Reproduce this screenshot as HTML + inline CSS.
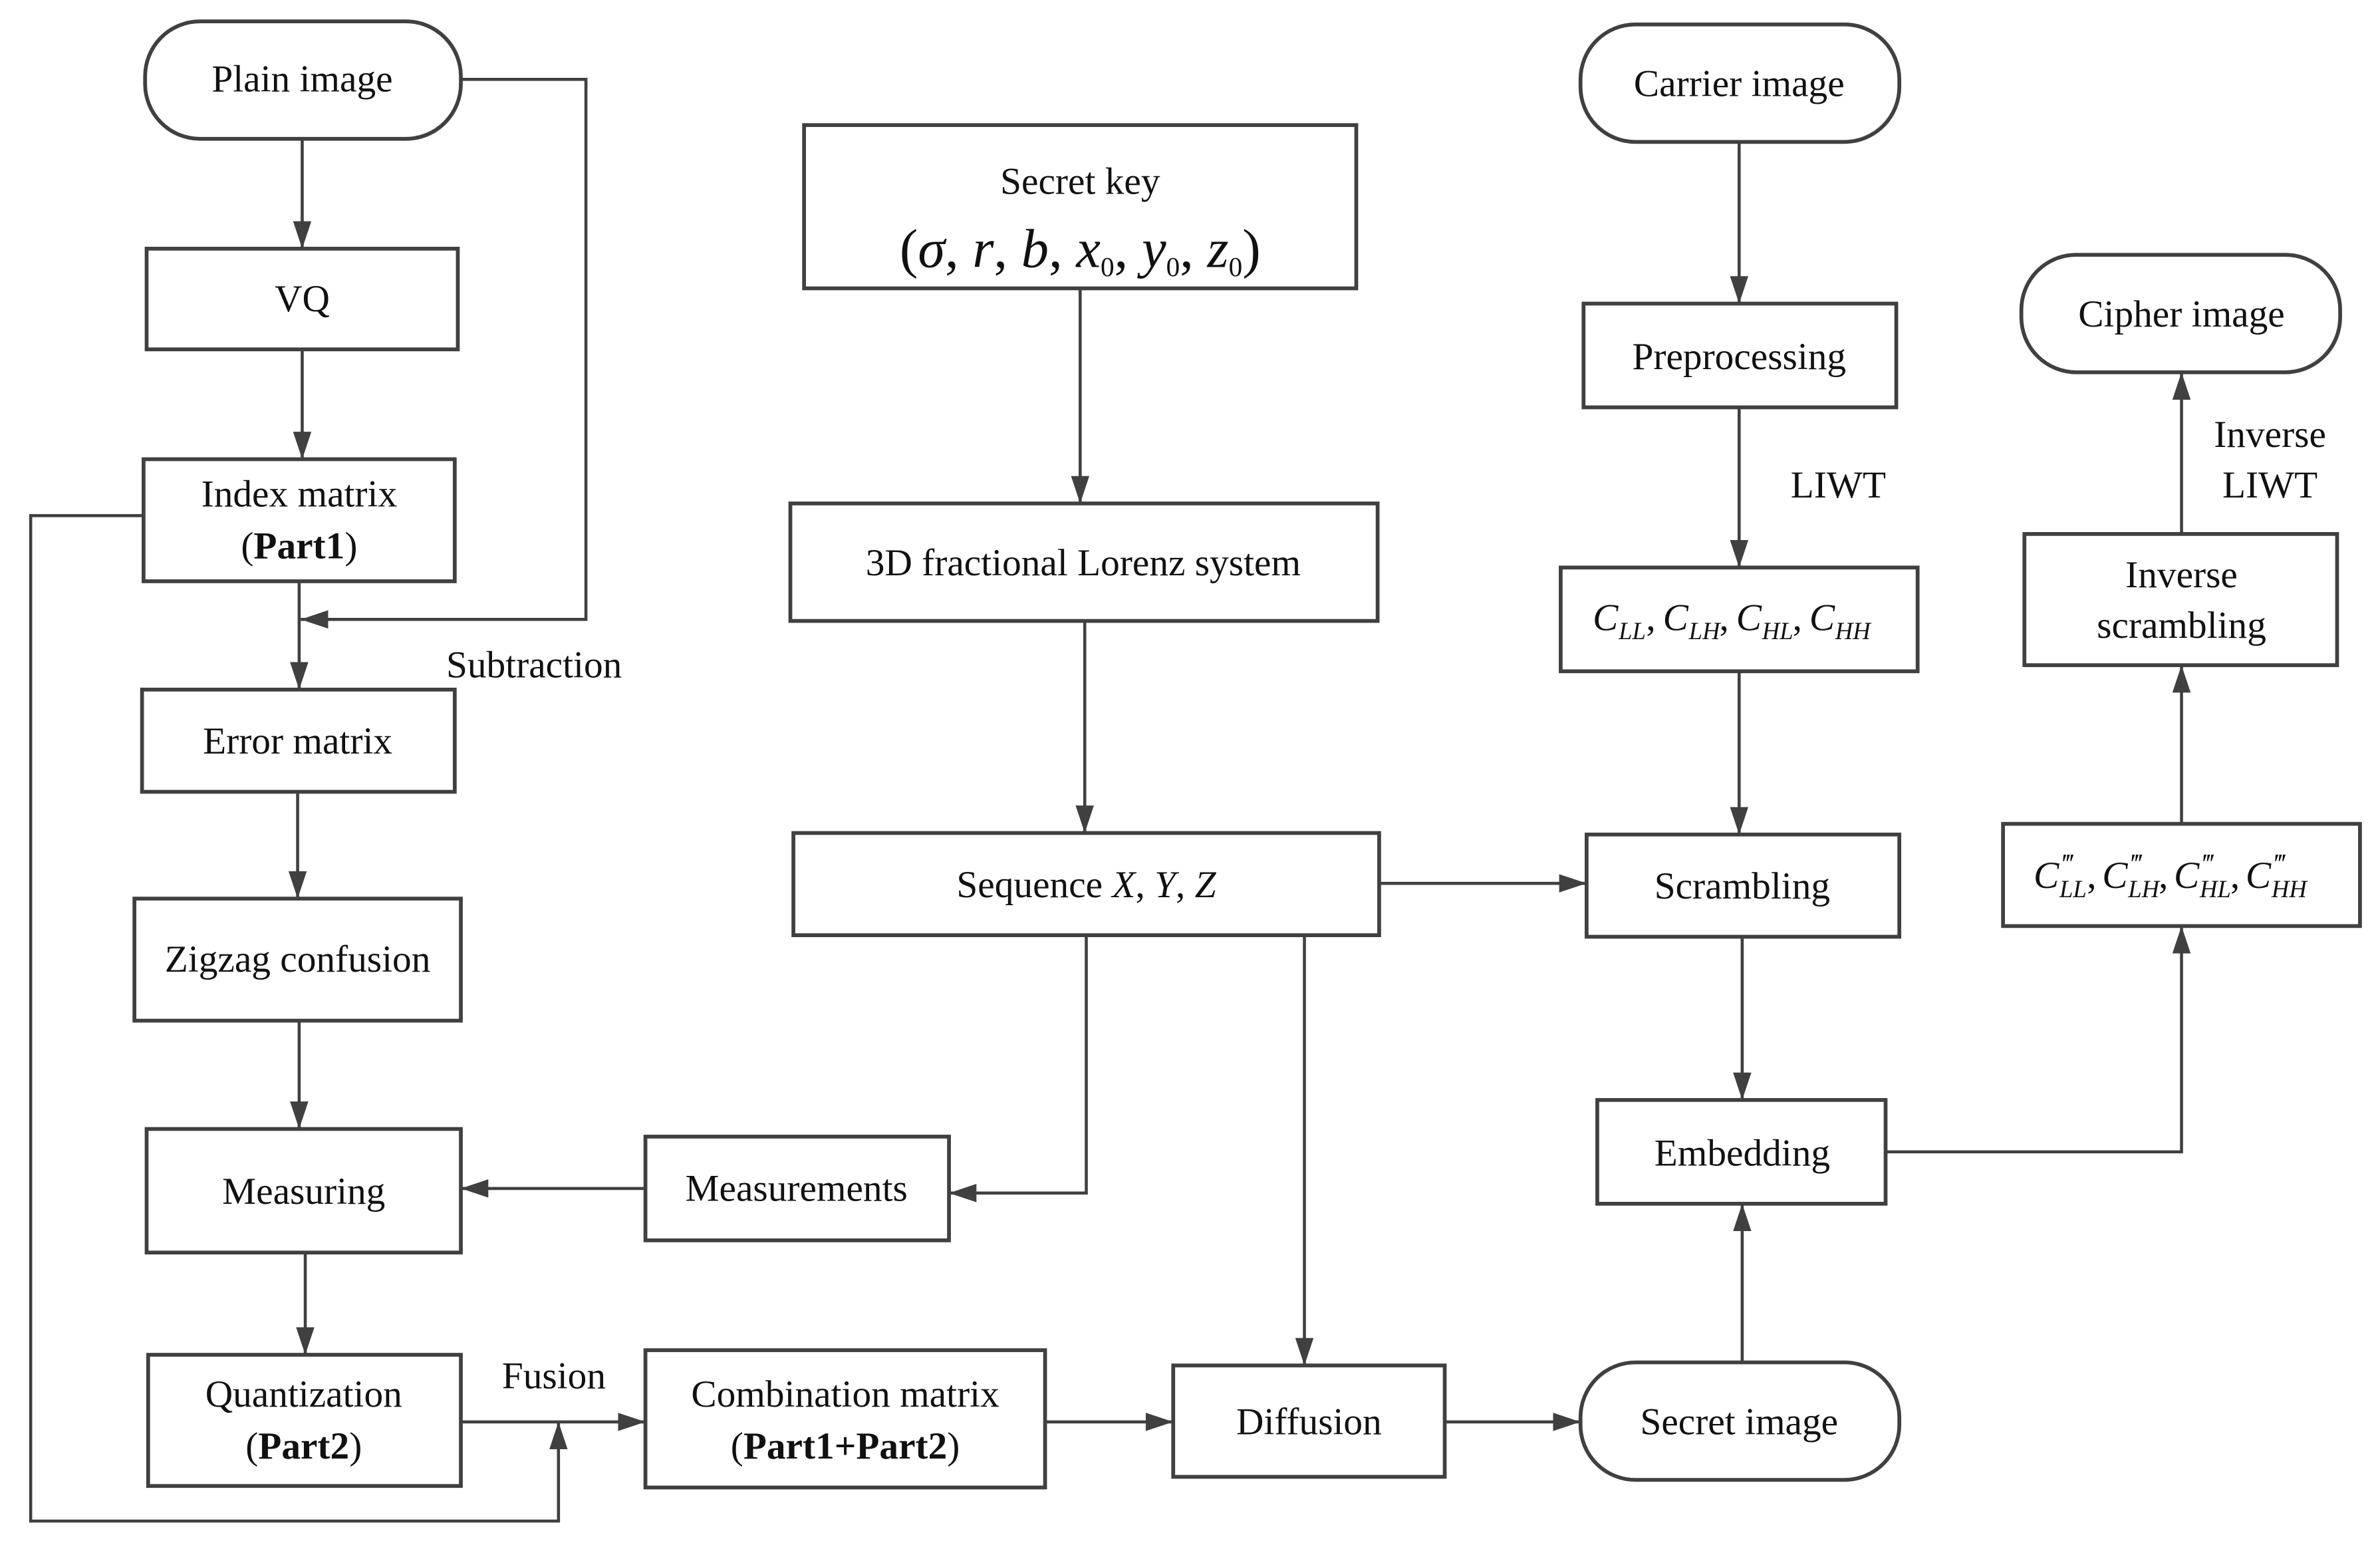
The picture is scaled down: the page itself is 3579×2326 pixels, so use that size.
<!DOCTYPE html>
<html><head><meta charset="utf-8"><style>
html,body{margin:0;padding:0;background:#fff;}
svg{display:block;}
text{font-family:"Liberation Serif",serif;font-size:25px;fill:#111;text-anchor:middle;}
.b{font-weight:bold;}
.i{font-style:italic;}
.l{text-anchor:start;}
.s{font-size:16px;font-style:italic;text-anchor:start;}
.p{font-size:18px;text-anchor:start;}
</style></head><body>
<svg width="3579" height="2326" viewBox="0 0 1560 1014" xmlns="http://www.w3.org/2000/svg">
<defs>
<marker id="a" markerWidth="18" markerHeight="12" refX="18" refY="6" orient="auto" markerUnits="userSpaceOnUse">
<path d="M0,0 L18,6 L0,12 z" fill="#404040"/></marker>
</defs>
<g fill="none" stroke="#404040" stroke-width="2.5">
<rect x="95" y="14" width="207" height="77" rx="36"/>
<rect x="96" y="163" width="204" height="66"/>
<rect x="94" y="301" width="204" height="80"/>
<rect x="93" y="452" width="205" height="67"/>
<rect x="88" y="589" width="214" height="80"/>
<rect x="96" y="740" width="206" height="81"/>
<rect x="97" y="888" width="205" height="86"/>
<rect x="527" y="82" width="362" height="107"/>
<rect x="518" y="330" width="385" height="77"/>
<rect x="520" y="546" width="384" height="67"/>
<rect x="423" y="745" width="199" height="68"/>
<rect x="423" y="885" width="262" height="90"/>
<rect x="769" y="895" width="178" height="73"/>
<rect x="1036" y="16" width="209" height="77" rx="36"/>
<rect x="1038" y="199" width="205" height="68"/>
<rect x="1023" y="372" width="234" height="68"/>
<rect x="1040" y="547" width="205" height="67"/>
<rect x="1047" y="721" width="189" height="68"/>
<rect x="1036" y="893" width="209" height="77" rx="36"/>
<rect x="1325" y="167" width="209" height="77" rx="36"/>
<rect x="1327" y="350" width="205" height="86"/>
<rect x="1313" y="540" width="234" height="67"/>
</g>
<g fill="none" stroke="#404040" stroke-width="2" marker-end="url(#a)">
<path d="M198,91 V163"/>
<path d="M198,229 V301"/>
<path d="M302,52 H384 V406 H197"/>
<path d="M196,381 V452"/>
<path d="M195,519 V589"/>
<path d="M196,669 V740"/>
<path d="M200,821 V888"/>
<path d="M423,779 H302"/>
<path d="M712,613 V782 H622"/>
<path d="M94,338 H20 V997 H366 V932"/>
<path d="M302,932 H423"/>
<path d="M685,932 H769"/>
<path d="M855,613 V895"/>
<path d="M947,932 H1036"/>
<path d="M708,189 V330"/>
<path d="M711,407 V546"/>
<path d="M904,579 H1040"/>
<path d="M1140,93 V199"/>
<path d="M1140,267 V372"/>
<path d="M1140,440 V547"/>
<path d="M1142,614 V721"/>
<path d="M1142,893 V789"/>
<path d="M1236,755 H1430 V607"/>
<path d="M1430,540 V436"/>
<path d="M1430,350 V244"/>
</g>
<text x="198" y="60">Plain image</text>
<text x="198" y="204">VQ</text>
<text x="196" y="332">Index matrix</text>
<text x="196" y="366">(<tspan class="b">Part1</tspan>)</text>
<text x="350" y="444">Subtraction</text>
<text x="195" y="494">Error matrix</text>
<text x="195" y="637">Zigzag confusion</text>
<text x="199" y="789">Measuring</text>
<text x="199" y="922">Quantization</text>
<text x="199" y="956">(<tspan class="b">Part2</tspan>)</text>
<text x="363" y="910">Fusion</text>
<text x="708" y="127">Secret key</text>
<text x="708" y="175" style="font-size:36px"><tspan>(</tspan><tspan class="i">σ</tspan>, <tspan class="i">r</tspan>, <tspan class="i">b</tspan>, <tspan class="i">x</tspan><tspan style="font-size:18px" dy="6">0</tspan><tspan dy="-6">, </tspan><tspan class="i">y</tspan><tspan style="font-size:18px" dy="6">0</tspan><tspan dy="-6">, </tspan><tspan class="i">z</tspan><tspan style="font-size:18px" dy="6">0</tspan><tspan dy="-6">)</tspan></text>
<text x="710" y="377">3D fractional Lorenz system</text>
<text x="712" y="588">Sequence <tspan class="i">X</tspan>, <tspan class="i">Y</tspan>, <tspan class="i">Z</tspan></text>
<text x="522" y="787">Measurements</text>
<text x="554" y="922">Combination matrix</text>
<text x="554" y="956">(<tspan class="b">Part1+Part2</tspan>)</text>
<text x="858" y="940">Diffusion</text>
<text x="1140" y="63">Carrier  image</text>
<text x="1140" y="242">Preprocessing</text>
<text x="1205" y="326">LIWT</text>
<g>
<text class="i l" x="1044" y="413">C</text><text class="s" x="1061" y="419">LL</text><text class="l" x="1079" y="413">,</text>
<text class="i l" x="1090" y="413">C</text><text class="s" x="1107" y="419">LH</text><text class="l" x="1127" y="413">,</text>
<text class="i l" x="1138" y="413">C</text><text class="s" x="1155" y="419">HL</text><text class="l" x="1175" y="413">,</text>
<text class="i l" x="1186" y="413">C</text><text class="s" x="1203" y="419">HH</text>
</g>
<text x="1142" y="589">Scrambling</text>
<text x="1142" y="764">Embedding</text>
<text x="1140" y="940">Secret image</text>
<text x="1430" y="214">Cipher  image</text>
<text x="1488" y="293">Inverse</text>
<text x="1488" y="326">LIWT</text>
<text x="1430" y="385">Inverse</text>
<text x="1430" y="418">scrambling</text>
<g>
<text class="i l" x="1333" y="582">C</text><text class="s" x="1350" y="588">LL</text><text class="p" x="1352" y="572">‴</text><text class="l" x="1368" y="582">,</text>
<text class="i l" x="1378" y="582">C</text><text class="s" x="1395" y="588">LH</text><text class="p" x="1397" y="572">‴</text><text class="l" x="1415" y="582">,</text>
<text class="i l" x="1425" y="582">C</text><text class="s" x="1442" y="588">HL</text><text class="p" x="1444" y="572">‴</text><text class="l" x="1462" y="582">,</text>
<text class="i l" x="1472" y="582">C</text><text class="s" x="1489" y="588">HH</text><text class="p" x="1491" y="572">‴</text>
</g>
</svg>
</body></html>
